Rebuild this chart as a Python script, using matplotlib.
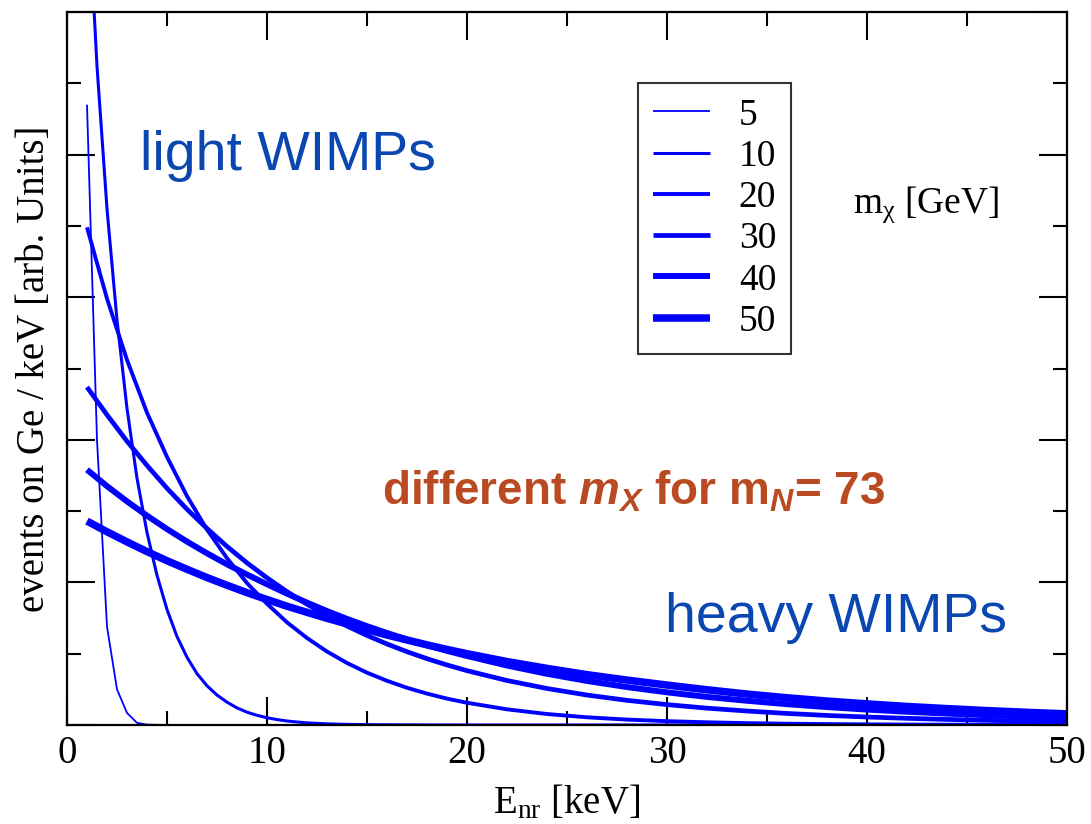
import matplotlib
matplotlib.use("Agg")
import matplotlib.pyplot as plt
from matplotlib import font_manager
from matplotlib.ticker import MultipleLocator

# WIMP masses (GeV)
masses = [5, 10, 20, 30, 40, 50]

# Recoil energies (keV) of the tabulated spectra
e_5 = [1, 1.5, 2, 2.5, 3, 3.5, 4, 4.5, 5, 50]
e_10 = [1, 1.5, 2, 2.5, 3, 3.5, 4, 4.5, 5, 5.5, 6, 6.5, 7, 7.5, 8, 8.5, 9,
        9.5, 10, 10.5, 11, 11.5, 12, 13, 14, 15, 17, 20, 50]
e_heavy = [1, 2, 3, 4, 5, 6, 7, 8, 9, 10, 11, 12, 13, 14, 15, 16, 17, 18,
           19, 20, 22, 24, 26, 28, 30, 32, 34, 36, 38, 40, 42, 44, 46, 48, 50]

# Differential rates on Ge, arbitrary units
rate_5 = [4.35, 2.0, 0.69, 0.25, 0.085, 0.015, 0.003, 0.001, 0, 0]
rate_10 = [5.95, 4.62, 3.62, 2.84, 2.22, 1.73, 1.35, 1.05, 0.81, 0.62, 0.475,
           0.36, 0.275, 0.21, 0.16, 0.12, 0.09, 0.068, 0.051, 0.038, 0.028,
           0.021, 0.015, 0.008, 0.0045, 0.0025, 0.0007, 0.0001, 0]
rate_20 = [3.49, 2.99, 2.56, 2.19, 1.88, 1.605, 1.37, 1.17, 0.995, 0.85, 0.72,
           0.61, 0.515, 0.435, 0.367, 0.31, 0.261, 0.22, 0.185, 0.156, 0.11,
           0.077, 0.054, 0.038, 0.027, 0.019, 0.013, 0.009, 0.0063, 0.0044,
           0.003, 0.0021, 0.0015, 0.001, 0.0007]
rate_30 = [2.37, 2.175, 1.99, 1.82, 1.66, 1.513, 1.378, 1.252, 1.137, 1.032,
           0.935, 0.847, 0.767, 0.694, 0.628, 0.568, 0.514, 0.465, 0.421,
           0.381, 0.312, 0.256, 0.21, 0.173, 0.143, 0.118, 0.098, 0.081,
           0.067, 0.056, 0.047, 0.039, 0.033, 0.028, 0.023]
rate_40 = [1.79, 1.675, 1.568, 1.468, 1.374, 1.286, 1.204, 1.127, 1.055,
           0.987, 0.921, 0.858, 0.799, 0.744, 0.693, 0.645, 0.60, 0.559, 0.52,
           0.484, 0.417, 0.359, 0.309, 0.266, 0.229, 0.197, 0.170, 0.146,
           0.126, 0.108, 0.093, 0.080, 0.069, 0.059, 0.051]
rate_50 = [1.43, 1.355, 1.284, 1.216, 1.152, 1.092, 1.034, 0.98, 0.928, 0.88,
           0.833, 0.79, 0.748, 0.709, 0.669, 0.631, 0.596, 0.562, 0.530, 0.50,
           0.445, 0.397, 0.353, 0.315, 0.280, 0.247, 0.217, 0.191, 0.168,
           0.148, 0.130, 0.115, 0.101, 0.089, 0.078]

energies = [e_5, e_10, e_heavy, e_heavy, e_heavy, e_heavy]
rates = [rate_5, rate_10, rate_20, rate_30, rate_40, rate_50]
widths = [1.3, 2.2, 2.8, 3.4, 4.3, 5.4]

plt.rcParams["font.family"] = ["Liberation Serif", "DejaVu Serif"]
plt.rcParams["mathtext.fontset"] = "custom"
plt.rcParams["mathtext.it"] = "Liberation Sans:italic:bold"
plt.rcParams["mathtext.rm"] = "Liberation Sans:bold"

installed = {f.name for f in font_manager.fontManager.ttflist}
narrow = "Liberation Sans Narrow" in installed

fig = plt.figure(figsize=(10.91, 8.24), dpi=100)
ax = fig.add_axes([67 / 1091, 99 / 824, 1000 / 1091, 713 / 824])

for m, e, r, lw in zip(masses, energies, rates, widths):
    ax.plot(e, r, color="#0000ff", lw=lw, label=str(m),
            solid_capstyle="butt", solid_joinstyle="round")

ax.set_xlim(0, 50)
ax.set_ylim(0, 5)
ax.xaxis.set_major_locator(MultipleLocator(10))
ax.xaxis.set_minor_locator(MultipleLocator(5))
ax.yaxis.set_major_locator(MultipleLocator(1))
ax.yaxis.set_minor_locator(MultipleLocator(0.5))
ax.tick_params(which="both", direction="in", top=True, right=True,
               width=1.5, labelleft=False)
ax.tick_params(which="major", length=20)
ax.tick_params(which="minor", length=10)
ax.tick_params(axis="x", labelsize=28, pad=7)
for s in ax.spines.values():
    s.set_linewidth(1.6)

ax.set_xlabel(r"$\mathregular{E_{nr}}$ [keV]", fontsize=28)
ax.xaxis.set_label_coords(0.5, -0.1234)
ax.xaxis.label.set_va("baseline")
ax.set_ylabel("events on Ge / keV [arb. Units]", fontsize=28)
ax.yaxis.set_label_coords(-0.032, 0.5)
ax.yaxis.label.set_va("center")

leg = ax.legend(loc="upper left", bbox_to_anchor=(0.571, 0.9004),
                borderaxespad=0, fontsize=27, handlelength=1.52,
                handletextpad=0.77, borderpad=0.4, labelspacing=0.18,
                fancybox=False, frameon=True, edgecolor="black")
leg.get_frame().set_linewidth(1.5)

ax.text(0.786, 0.718, r"$\mathregular{m_{\chi}}$ [GeV]", fontsize=27,
        transform=ax.transAxes, va="baseline", ha="left")

wimp_color = "#0a47b0"
ax.text(0.073, 0.778, "light WIMPs", fontsize=40, color=wimp_color,
        family=["Liberation Sans", "DejaVu Sans"], transform=ax.transAxes,
        va="baseline", ha="left")
ax.text(0.598, 0.1304, "heavy WIMPs", fontsize=40, color=wimp_color,
        family=["Liberation Sans", "DejaVu Sans"], transform=ax.transAxes,
        va="baseline", ha="left")

title_family = ["Liberation Sans Narrow"] if narrow else ["Liberation Sans"]
ax.text(0.315, 0.3086, r"different $m_X$ for $\mathregular{m}_N$= 73",
        fontsize=40 if narrow else 33, fontweight="bold", color="#b94a21",
        family=title_family, transform=ax.transAxes, va="baseline",
        ha="left")

fig.savefig("out.png", dpi=100)
